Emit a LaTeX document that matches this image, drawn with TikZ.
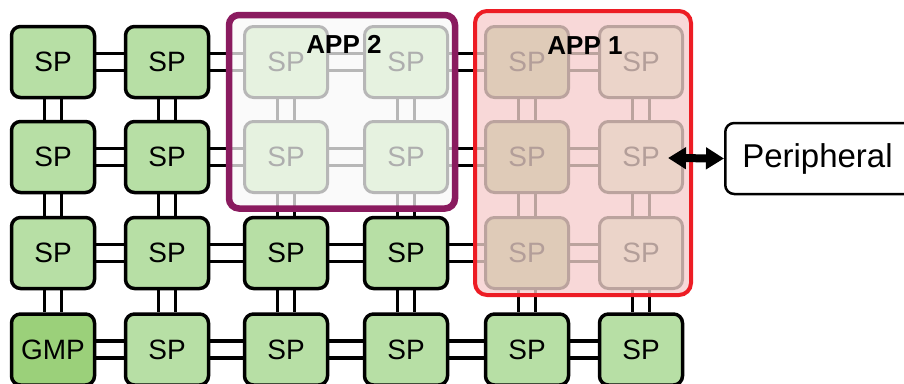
\documentclass[tikz,border=0pt]{standalone}
\usepackage{fontspec}
\setmainfont{Liberation Sans}
\usetikzlibrary{arrows.meta}
\definecolor{spfill}{HTML}{B7DFA5}
\definecolor{gmpfill}{HTML}{9BD07A}
\definecolor{atwofill}{HTML}{FAFAFA}
\definecolor{atwoline}{HTML}{8A1B5F}
\definecolor{gAfill}{HTML}{E6F2E0}
\definecolor{gAline}{HTML}{B7B7B7}
\definecolor{gAtext}{HTML}{AEAEAE}
\definecolor{aonefill}{HTML}{F8D8D8}
\definecolor{aoneline}{HTML}{ED1C24}
\definecolor{gBfillA}{HTML}{DFCBB8}
\definecolor{gBfillB}{HTML}{EBD4C9}
\definecolor{gBline}{HTML}{BBA39E}
\definecolor{gBtext}{HTML}{B39E99}
\pgfdeclarelayer{conn}
\pgfdeclarelayer{regfill}
\pgfdeclarelayer{gconn}
\pgfdeclarelayer{top}
\pgfsetlayers{conn,regfill,gconn,main,top}
\tikzset{
  cell/.style={rectangle, rounded corners=9pt, minimum width=83pt, minimum height=71pt,
    line width=3.5pt, font=\fontsize{28}{30}\selectfont, inner sep=0pt},
  sp/.style={cell, draw=black, fill=spfill, text=black},
  gmp/.style={cell, draw=black, fill=gmpfill, text=black},
  ghostA/.style={cell, draw=gAline, line width=3pt, fill=gAfill, text=gAtext},
  ghostB/.style={cell, draw=gBline, line width=3pt, fill=gBfillA, text=gBtext},
  ghostC/.style={cell, draw=gBline, line width=3pt, fill=gBfillB, text=gBtext},
  link/.style={line width=3.3pt},
  applbl/.style={font=\bfseries\fontsize{26}{28}\selectfont, inner sep=0pt}
}
\begin{document}
\begin{tikzpicture}[x=1pt,y=-1pt]
\useasboundingbox (0,0) rectangle (904,383);
\clip (0,0) rectangle (904,383);
% row 1
\node[sp] (n11) at (53,62) {SP};
\node[sp] (n12) at (167,62) {SP};
\node[ghostA] (n13) at (286,62) {SP};
\node[ghostA] (n14) at (406,62) {SP};
\node[ghostB] (n15) at (527,62) {SP};
\node[ghostC] (n16) at (641,62) {SP};
% row 2
\node[sp] (n21) at (53,157) {SP};
\node[sp] (n22) at (167,157) {SP};
\node[ghostA] (n23) at (286,157) {SP};
\node[ghostA] (n24) at (406,157) {SP};
\node[ghostB] (n25) at (527,157) {SP};
\node[ghostC] (n26) at (641,157) {SP};
% row 3
\node[sp] (n31) at (53,253) {SP};
\node[sp] (n32) at (167,253) {SP};
\node[sp] (n33) at (286,253) {SP};
\node[sp] (n34) at (406,253) {SP};
\node[ghostB] (n35) at (527,253) {SP};
\node[ghostC] (n36) at (641,253) {SP};
% row 4
\node[gmp] (n41) at (53,349.5) {GMP};
\node[sp] (n42) at (167,349.5) {SP};
\node[sp] (n43) at (286,349.5) {SP};
\node[sp] (n44) at (406,349.5) {SP};
\node[sp] (n45) at (527,349.5) {SP};
\node[sp] (n46) at (641,349.5) {SP};

% black connectors
\begin{pgfonlayer}{conn}
\foreach \r in {1,2,3,4}{
  \foreach \c/\d in {1/2,2/3,3/4,4/5,5/6}{
    \draw[link] ([yshift=8.5pt]n\r\c.east) -- ([yshift=8.5pt]n\r\d.west);
    \draw[link] ([yshift=-8.5pt]n\r\c.east) -- ([yshift=-8.5pt]n\r\d.west);
  }
}
\foreach \c in {1,...,6}{
  \foreach \r/\s in {1/2,2/3,3/4}{
    \draw[link] ([xshift=-8.5pt]n\r\c.south) -- ([xshift=-8.5pt]n\s\c.north);
    \draw[link] ([xshift=8.5pt]n\r\c.south) -- ([xshift=8.5pt]n\s\c.north);
  }
}
\end{pgfonlayer}

% region fills
\begin{pgfonlayer}{regfill}
\fill[atwofill, rounded corners=10pt] (229,15) rectangle (455,208.5);
\fill[aonefill, rounded corners=12pt] (475,11) rectangle (691,295);
\end{pgfonlayer}

% grey connectors inside regions
\begin{pgfonlayer}{gconn}
\begin{scope}
\clip[rounded corners=10pt] (229,15) rectangle (455,208.5);
\foreach \r in {1,2,3}{
  \foreach \c/\d in {2/3,3/4,4/5}{
    \draw[link, gAline] ([yshift=8.5pt]n\r\c.east) -- ([yshift=8.5pt]n\r\d.west);
    \draw[link, gAline] ([yshift=-8.5pt]n\r\c.east) -- ([yshift=-8.5pt]n\r\d.west);
  }
}
\foreach \c in {3,4}{
  \foreach \r/\s in {1/2,2/3}{
    \draw[link, gAline] ([xshift=-8.5pt]n\r\c.south) -- ([xshift=-8.5pt]n\s\c.north);
    \draw[link, gAline] ([xshift=8.5pt]n\r\c.south) -- ([xshift=8.5pt]n\s\c.north);
  }
}
\end{scope}
\begin{scope}
\clip[rounded corners=12pt] (475,11) rectangle (691,295);
\foreach \r in {1,2,3}{
  \foreach \c/\d in {4/5,5/6}{
    \draw[link, gBline] ([yshift=8.5pt]n\r\c.east) -- ([yshift=8.5pt]n\r\d.west);
    \draw[link, gBline] ([yshift=-8.5pt]n\r\c.east) -- ([yshift=-8.5pt]n\r\d.west);
  }
}
\foreach \c in {5,6}{
  \foreach \r/\s in {1/2,2/3,3/4}{
    \draw[link, gBline] ([xshift=-8.5pt]n\r\c.south) -- ([xshift=-8.5pt]n\s\c.north);
    \draw[link, gBline] ([xshift=8.5pt]n\r\c.south) -- ([xshift=8.5pt]n\s\c.north);
  }
}
\end{scope}
\end{pgfonlayer}

% region borders, labels, peripheral
\begin{pgfonlayer}{top}
\draw[atwoline, line width=6.5pt, rounded corners=10pt] (229,15) rectangle (455,208.5);
\draw[aoneline, line width=4pt, rounded corners=12pt] (475,11) rectangle (691,295);
\node[applbl] (lbl2) at (344,44) {APP 2};
\node[applbl] (lbl1) at (585,46) {APP 1};
\node[draw=black, line width=2.5pt, rounded corners=9pt, minimum height=71pt,
      minimum width=200pt, anchor=west, inner xsep=17pt, text width=166pt, align=left,
      font=\fontsize{33}{36}\selectfont] (per) at (724,158.5) {Peripheral};
\draw[line width=8pt, {Triangle[length=18pt,width=21pt]}-{Triangle[length=18pt,width=21pt]}]
  ([xshift=-16pt,yshift=-1pt]n26.east) -- (per.west);
\end{pgfonlayer}
\end{tikzpicture}
\end{document}
